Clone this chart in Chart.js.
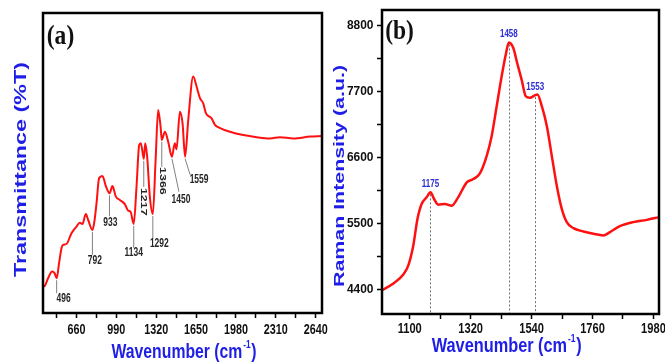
<!DOCTYPE html>
<html>
<head>
<meta charset="utf-8">
<script src="https://cdn.jsdelivr.net/npm/chart.js@4.4.1/dist/chart.umd.min.js"></script>
<style>
  html, body { margin: 0; padding: 0; background: #fff; }
  #wrap { position: relative; width: 665px; height: 364px; }
  #irBox { position: absolute; left: 0; top: 0; width: 332px; height: 364px; }
  #ramanBox { position: absolute; left: 332px; top: 0; width: 333px; height: 364px; }
</style>
</head>
<body>
<div id="wrap">
  <div id="irBox"><canvas id="irChart"></canvas></div>
  <div id="ramanBox"><canvas id="ramanChart"></canvas></div>
</div>
<script>
// (a) FTIR spectrum
const irWavenumber = [383, 397, 425, 458, 480, 496, 516, 536, 549, 577, 619, 660, 687, 710, 737, 757, 792, 806, 826, 847,
  875, 903, 933, 958, 986, 1019, 1060, 1088, 1107, 1134, 1157, 1179, 1193, 1217, 1229, 1245, 1267, 1292, 1315, 1336,
  1356, 1366, 1392, 1419, 1450, 1474, 1488, 1516, 1538, 1559, 1585, 1626, 1654, 1682, 1709, 1731, 1778, 1806, 1840,
  1930, 2040, 2151, 2262, 2344, 2455, 2593, 2692];
const irTransmittance = [8.8, 9.0, 11.6, 13.8, 13.2, 11.6, 16.6, 21.6, 22.7, 23.0, 26.6, 28.8, 30.1, 29.7, 33.0, 31.0, 27.7, 29.9, 36.6, 44.9,
  45.7, 42.3, 39.9, 42.3, 38.8, 37.7, 36.3, 34.1, 33.8, 29.7, 42.1, 56.0, 56.6, 51.4, 56.6, 52.1, 38.8, 33.0, 51.0, 67.7,
  62.1, 57.7, 60.4, 57.1, 52.1, 56.6, 54.6, 67.1, 63.2, 52.1, 64.3, 78.8, 75.5, 71.6, 69.9, 66.6, 64.9, 62.7, 61.8,
  60.4, 59.3, 58.6, 58.2, 58.6, 58.2, 58.8, 59.0];
const irBands = [496, 792, 933, 1134, 1217, 1292, 1366, 1450, 1559];
const irTickLabels = [660, 990, 1320, 1650, 1980, 2310, 2640];

// (b) Raman spectrum
const ramanShift = [1000, 1041, 1077, 1095, 1113, 1128, 1143, 1161, 1175, 1188, 1203, 1227, 1252, 1275, 1306, 1330,
  1354, 1378, 1396, 1414, 1432, 1448, 1458, 1474, 1488, 1504, 1519, 1534, 1553, 1561, 1577, 1595, 1613, 1631, 1649,
  1667, 1691, 1727, 1763, 1799, 1823, 1859, 1907, 1956, 2000];
const ramanIntensity = [4387, 4498, 4648, 4802, 5134, 5576, 5825, 5936, 6019, 5908, 5814, 5825, 5797, 5936, 6185, 6240,
  6340, 6627, 6959, 7456, 7954, 8342, 8518, 8425, 8176, 7899, 7622, 7596, 7640, 7650, 7456, 7124, 6627, 6129, 5742,
  5522, 5422, 5366, 5328, 5300, 5356, 5455, 5522, 5560, 5605];
const ramanPeaks = [1175, 1458, 1553];
const ramanXTickLabels = [1100, 1320, 1540, 1760, 1980];
const ramanYTickLabels = [4400, 5500, 6600, 7700, 8800];

const SANS = '"Liberation Sans", Arial, Helvetica, sans-serif';
const SERIF = '"Liberation Serif", "Times New Roman", serif';
const BLUE = '#1e1ee6';
const RED = '#ff1010';

// where each band label sits, relative to the dip (line end, text centre)
const irLabelLayout = [
  { line: [0, 15], text: [7, 20] },
  { line: [0, 25], text: [2.5, 31] },
  { line: [0, 23], text: [1, 29] },
  { line: [0, 24], text: [0, 29] },
  { line: [0, 28], text: [0, 43], rot: true },
  { line: [0, 24], text: [6.5, 30] },
  { line: [0, 27], text: [0.7, 41], rot: true },
  { line: [7, 35], text: [9, 43] },
  { line: [5, 18], text: [14, 23] }
];

function valueAt(xs, ys, v) {
  for (let i = 1; i < xs.length; i++) {
    if (v <= xs[i]) {
      const f = (v - xs[i - 1]) / (xs[i] - xs[i - 1]);
      return ys[i - 1] + f * (ys[i] - ys[i - 1]);
    }
  }
  return ys[ys.length - 1];
}

function tickMarks(labels, lo, hi) {
  const half = (labels[1] - labels[0]) / 2;
  const out = [];
  for (let v = labels[0] - 4 * half; v <= hi; v += half) {
    if (v >= lo) out.push({ value: v });
  }
  return out;
}

function squashText(ctx, text, x, y, o) {
  ctx.save();
  ctx.translate(x, y);
  ctx.scale(o.sx || 1, 1);
  if (o.rot) ctx.rotate(o.rot);
  ctx.font = o.font;
  ctx.fillStyle = o.color || '#000';
  ctx.textAlign = o.align || 'center';
  ctx.textBaseline = 'middle';
  if (o.len) {
    const w = ctx.measureText(text).width;
    ctx.scale(o.len / w, 1);
  }
  ctx.fillText(text, 0, 0);
  ctx.restore();
}

function drawWavenumberTitle(ctx, cx, cy, width) {
  const big = 'bold 21px ' + SANS, small = 'bold 11px ' + SANS;
  ctx.save();
  ctx.font = big;
  const w1 = ctx.measureText('Wavenumber (cm').width;
  const w3 = ctx.measureText(')').width;
  ctx.font = small;
  const w2 = ctx.measureText('-1').width;
  const total = w1 + w2 + w3 + 2;
  ctx.translate(cx, cy);
  ctx.scale(width / total, 1);
  ctx.fillStyle = BLUE;
  ctx.textAlign = 'left';
  ctx.textBaseline = 'alphabetic';
  const x0 = -total / 2;
  ctx.font = big;
  ctx.fillText('Wavenumber (cm', x0, 7);
  ctx.font = small;
  ctx.fillText('-1', x0 + w1 + 1, -3);
  ctx.font = big;
  ctx.fillText(')', x0 + w1 + w2 + 2, 7);
  ctx.restore();
}

function drawFrame(ctx, a) {
  ctx.save();
  ctx.strokeStyle = '#000';
  ctx.lineWidth = 2.5;
  ctx.strokeRect(a.left, a.top, a.right - a.left, a.bottom - a.top);
  ctx.restore();
}

const irDecor = {
  id: 'irDecor',
  beforeDatasetsDraw(chart) {
    const { ctx, scales: { x, y } } = chart;
    ctx.save();
    ctx.strokeStyle = '#808080';
    ctx.lineWidth = 1;
    irBands.forEach((b, i) => {
      const L = irLabelLayout[i];
      const px = x.getPixelForValue(b);
      const py = y.getPixelForValue(valueAt(irWavenumber, irTransmittance, b));
      ctx.beginPath();
      ctx.moveTo(px, py + 2);
      ctx.lineTo(px + L.line[0], py + L.line[1]);
      ctx.stroke();
    });
    ctx.restore();
  },
  afterDatasetsDraw(chart) {
    const { ctx, chartArea: a, scales: { x, y } } = chart;
    drawFrame(ctx, a);
    irTickLabels.forEach(v => {
      squashText(ctx, String(v), x.getPixelForValue(v), 330, { font: 'bold 15px ' + SANS, sx: 0.72, color: '#111' });
    });
    irBands.forEach((b, i) => {
      const L = irLabelLayout[i];
      const px = x.getPixelForValue(b);
      const py = y.getPixelForValue(valueAt(irWavenumber, irTransmittance, b));
      squashText(ctx, String(b), px + L.text[0], py + L.text[1],
        { font: 'bold 12.5px ' + SANS, sx: 0.68, color: '#262626', rot: L.rot ? Math.PI / 2 : 0 });
    });
    squashText(ctx, '(a)', 60.5, 36.5, { font: 'bold 28px ' + SERIF, sx: 0.84, color: '#111' });
    squashText(ctx, 'Transmittance (%T)', 21, 169.5, { font: 'bold 23px ' + SANS, sx: 0.72, rot: -Math.PI / 2, len: 215, color: BLUE });
    drawWavenumberTitle(ctx, 184, 351, 145);
  }
};

const ramanDecor = {
  id: 'ramanDecor',
  beforeDatasetsDraw(chart) {
    const { ctx, chartArea: a, scales: { x, y } } = chart;
    ctx.save();
    ctx.strokeStyle = '#707070';
    ctx.lineWidth = 1;
    ctx.setLineDash([2, 2]);
    ramanPeaks.forEach(p => {
      const px = Math.round(x.getPixelForValue(p)) + 0.5;
      const py = y.getPixelForValue(valueAt(ramanShift, ramanIntensity, p));
      ctx.beginPath();
      ctx.moveTo(px, py + 2);
      ctx.lineTo(px, a.bottom);
      ctx.stroke();
    });
    ctx.restore();
  },
  afterDatasetsDraw(chart) {
    const { ctx, chartArea: a, scales: { x, y } } = chart;
    drawFrame(ctx, a);
    ramanXTickLabels.forEach(v => {
      squashText(ctx, String(v), x.getPixelForValue(v), 329, { font: 'bold 15px ' + SANS, sx: 0.74, color: '#111' });
    });
    ramanYTickLabels.forEach(v => {
      squashText(ctx, String(v), a.left - 8.5, y.getPixelForValue(v), { font: 'bold 13px ' + SANS, sx: 0.92, color: '#111', align: 'right' });
    });
    ramanPeaks.forEach(p => {
      const px = x.getPixelForValue(p);
      const py = y.getPixelForValue(valueAt(ramanShift, ramanIntensity, p));
      squashText(ctx, String(p), px, py - 8, { font: 'bold 10px ' + SANS, sx: 0.8, color: '#2b2bd6' });
    });
    squashText(ctx, '(b)', 67.5, 31.5, { font: 'bold 28px ' + SERIF, sx: 0.84, color: '#111' });
    squashText(ctx, 'Raman Intensity (a.u.)', 7.5, 176, { font: 'bold 21.5px ' + SANS, sx: 0.72, rot: -Math.PI / 2, len: 222, color: BLUE });
    drawWavenumberTitle(ctx, 174.7, 345, 150);
  }
};

function axisX(min, max, labels, h) {
  return {
    type: 'linear', min: min, max: max,
    afterBuildTicks: s => { s.ticks = tickMarks(labels, min, max); },
    afterFit: s => { s.height = h; },
    ticks: { display: false },
    grid: { drawOnChartArea: false, drawTicks: true, tickLength: 5, tickColor: '#000', tickWidth: 1.5 },
    border: { display: false }
  };
}

new Chart(document.getElementById('irChart'), {
  type: 'line',
  data: {
    datasets: [{
      data: irWavenumber.map((w, i) => ({ x: w, y: irTransmittance[i] })),
      borderColor: RED,
      borderWidth: 2,
      pointRadius: 0,
      cubicInterpolationMode: 'monotone',
      fill: false
    }]
  },
  options: {
    responsive: true,
    maintainAspectRatio: false,
    animation: false,
    devicePixelRatio: 1,
    layout: { padding: { left: 0, top: 13, right: 10, bottom: 0 } },
    plugins: { legend: { display: false }, tooltip: { enabled: false } },
    scales: {
      x: axisX(383, 2692, irTickLabels, 51),
      y: {
        min: 0, max: 100,
        afterFit: s => { s.width = 43; },
        ticks: { display: false },
        grid: { display: false },
        border: { display: false }
      }
    }
  },
  plugins: [irDecor]
});

new Chart(document.getElementById('ramanChart'), {
  type: 'line',
  data: {
    datasets: [{
      data: ramanShift.map((w, i) => ({ x: w, y: ramanIntensity[i] })),
      borderColor: RED,
      borderWidth: 2.5,
      pointRadius: 0,
      cubicInterpolationMode: 'monotone',
      fill: false
    }]
  },
  options: {
    responsive: true,
    maintainAspectRatio: false,
    animation: false,
    devicePixelRatio: 1,
    layout: { padding: { left: 0, top: 10, right: 6, bottom: 0 } },
    plugins: { legend: { display: false }, tooltip: { enabled: false } },
    scales: {
      x: axisX(1000, 2000, ramanXTickLabels, 50),
      y: {
        min: 3990, max: 9060,
        afterBuildTicks: s => { s.ticks = tickMarks(ramanYTickLabels, 3990, 9060); },
        afterFit: s => { s.width = 50; },
        ticks: { display: false },
        grid: { drawOnChartArea: false, drawTicks: true, tickLength: 5, tickColor: '#000', tickWidth: 1.5 },
        border: { display: false }
      }
    }
  },
  plugins: [ramanDecor]
});
</script>
</body>
</html>
